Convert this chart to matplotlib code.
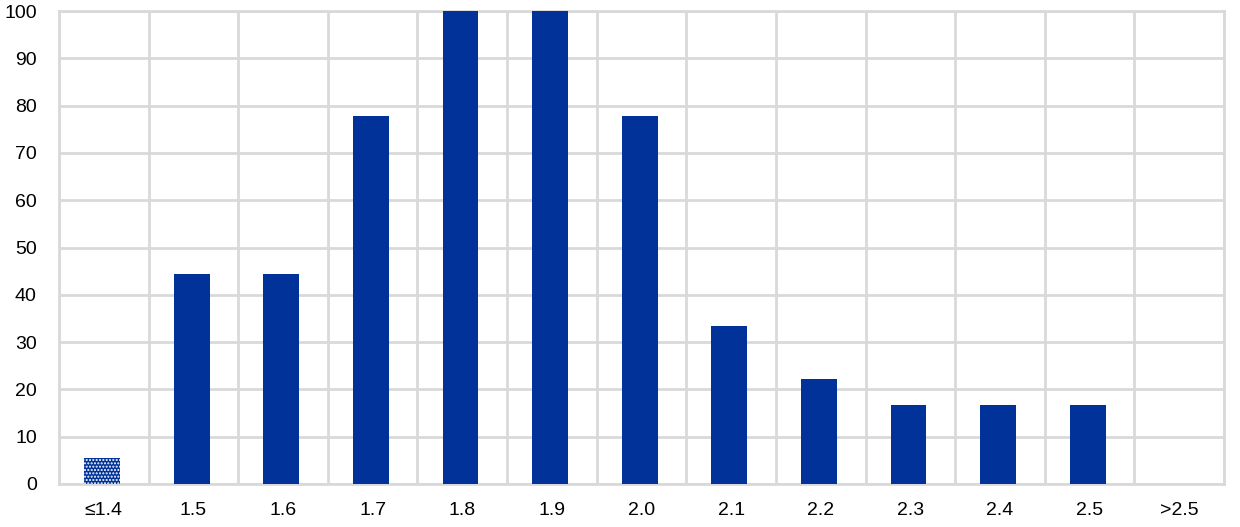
import matplotlib.pyplot as plt
import numpy as np

plt.rcParams['font.family'] = ['Liberation Sans', 'DejaVu Sans']

# Data
categories = ['≤1.4', '1.5', '1.6', '1.7', '1.8', '1.9', '2.0', '2.1', '2.2', '2.3', '2.4', '2.5', '>2.5']
values = [5.5, 44.4, 44.4, 77.8, 100, 100, 77.8, 33.3, 22.2, 16.7, 16.7, 16.7, 0]

blue = '#003299'
grid_col = '#d9d9d9'

fig = plt.figure(figsize=(12.4, 5.27), dpi=100)
ax = fig.add_axes([0.0476, 0.0816, 0.9395, 0.8975])

x = np.arange(len(categories))
bars = ax.bar(x - 0.02, values, width=0.4, color=blue, zorder=3)
# first bar is patterned
bars[0].set_hatch('.....')
bars[0].set_edgecolor('white')
bars[0].set_linewidth(0)

ax.set_xlim(-0.5, len(categories) - 0.5)
ax.set_ylim(0, 100)
ax.set_yticks(np.arange(0, 101, 10))
ax.set_xticks(x)
ax.set_xticklabels(categories)

# vertical gridlines at category boundaries
ax.set_xticks(np.arange(-0.5, len(categories), 1), minor=True)
ax.grid(True, which='minor', axis='x', color=grid_col, linewidth=2, zorder=0)
ax.grid(True, which='major', axis='y', color=grid_col, linewidth=2, zorder=0)

for s in ax.spines.values():
    s.set_color(grid_col)
    s.set_linewidth(2)

ax.tick_params(axis='both', which='both', length=0, labelsize=14, colors='black')
ax.tick_params(axis='x', pad=13)
ax.tick_params(axis='y', pad=16)

fig.savefig('out.png', dpi=100)
